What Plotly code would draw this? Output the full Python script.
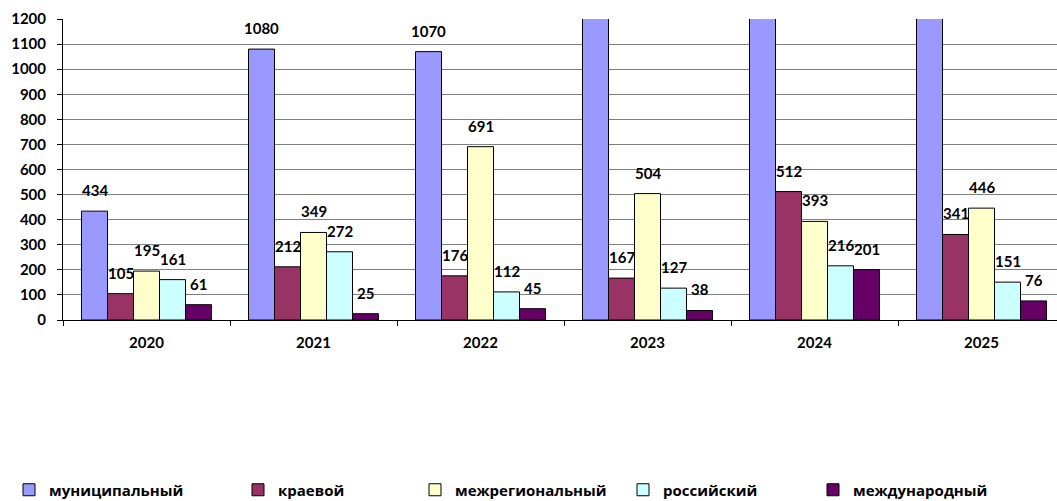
import plotly.graph_objects as go

years = ["2020", "2021", "2022", "2023", "2024", "2025"]
series_names = ["муниципальный", "краевой", "межрегиональный", "российский", "международный"]
municipal = [434, 1080, 1070, 1500, 1450, 1400]
kraevoy = [105, 212, 176, 167, 512, 341]
mezhregional = [195, 349, 691, 504, 393, 446]
rossiyskiy = [161, 272, 112, 127, 216, 151]
mezhdunarodny = [61, 25, 45, 38, 201, 76]
colors = ["#9999FF", "#993366", "#FFFFCC", "#CCFFFF", "#660066"]
y_ticks = list(range(0, 1201, 100))

all_series = [municipal, kraevoy, mezhregional, rossiyskiy, mezhdunarodny]
FONT = "Lato"
LEG_FONT = "Open Sans"
W, H = 1057, 501
L, T, B = 63, 19, 181
group_px = 167
bar_px = 26

fig = go.Figure()
legend_names = ["legend", "legend2", "legend3", "legend4", "legend5"]
for i, (name, vals, col) in enumerate(zip(series_names, all_series, colors)):
    fig.add_trace(go.Bar(
        x=years, y=vals, name=name,
        marker=dict(color=col, line=dict(color="black", width=1)),
        legend=legend_names[i],
        hoverinfo="x+y+name",
    ))
    for j, v in enumerate(vals):
        if v <= y_ticks[-1]:
            fig.add_annotation(
                x=j, y=v, xref="x", yref="y", text=str(v), showarrow=False,
                xshift=(i - 2) * bar_px, yshift=21, yanchor="middle",
                font=dict(family=FONT, size=15, color="black", weight="bold"),
            )

plot_w = W - L
xr = plot_w / group_px
layout_legends = {}
legend_text_x = [64, 293, 470, 678, 868]
for i, ln in enumerate(legend_names):
    layout_legends[ln] = dict(
        orientation="h", xref="container", yref="container",
        x=(legend_text_x[i] - 55) / W, xanchor="left",
        y=(H - 490) / H, yanchor="middle",
        font=dict(family=LEG_FONT, size=15, color="black", weight="bold"),
        bgcolor="rgba(0,0,0,0)", itemwidth=30,
    )

fig.update_layout(
    width=W, height=H,
    margin=dict(l=L, r=0, t=T, b=B),
    barmode="group", bargap=(group_px - 5 * bar_px) / group_px, bargroupgap=0,
    plot_bgcolor="white", paper_bgcolor="white",
    showlegend=True,
    xaxis=dict(
        type="category", range=[-0.5, -0.5 + xr],
        showline=True, linecolor="black", linewidth=1,
        ticks="outside", ticklen=5, tickcolor="black", tickson="boundaries",
        showgrid=False, ticklabelstandoff=9,
        tickfont=dict(family=FONT, size=15, color="black", weight="bold"),
    ),
    yaxis=dict(
        range=[0, 1200], tickvals=y_ticks,
        showline=True, linecolor="black", linewidth=1,
        ticks="outside", ticklen=5, tickcolor="black",
        showgrid=True, gridcolor="#808080", gridwidth=1,
        zeroline=False,
        ticklabelstandoff=8,
        tickfont=dict(family=FONT, size=15, color="black", weight="bold"),
    ),
    **layout_legends,
)

fig.write_html("out.html", config={"displayModeBar": False})
with open("out.html", encoding="utf-8") as f:
    html = f.read()
html = html.replace("<head>", "<head><style>html,body{margin:0;padding:0;overflow:hidden}</style>", 1)
with open("out.html", "w", encoding="utf-8") as f:
    f.write(html)
